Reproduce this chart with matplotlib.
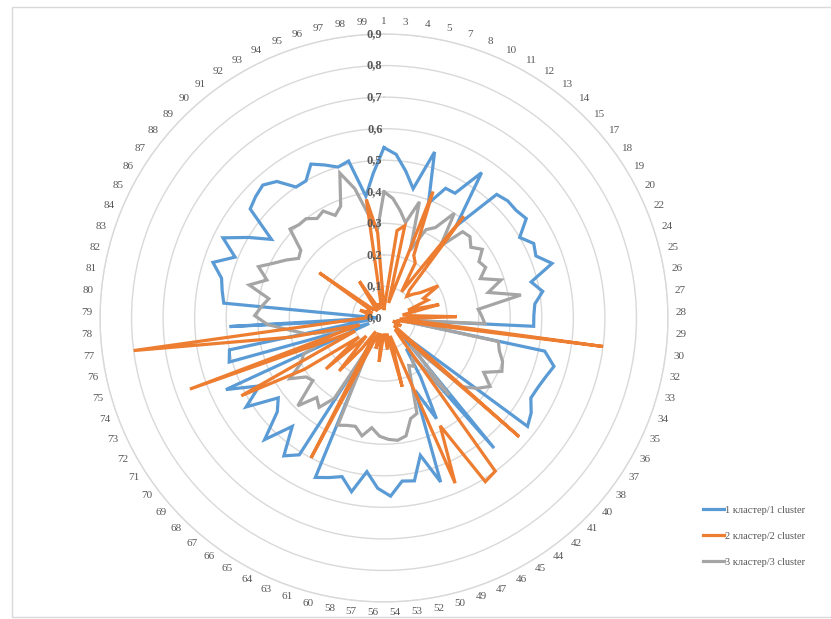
import numpy as np
import matplotlib.pyplot as plt
from matplotlib.patches import Rectangle
from matplotlib.lines import Line2D

# category labels around the radar
labels = [1, 3, 4, 5, 7, 8, 10, 11, 12, 13, 14, 15, 17, 18, 19, 20, 22, 24, 25, 26,
          27, 28, 29, 30, 32, 33, 34, 35, 36, 37, 38, 40, 41, 42, 44, 45, 46, 47, 49, 50,
          52, 53, 54, 56, 57, 58, 60, 61, 63, 64, 65, 66, 67, 68, 69, 70, 71, 72, 73, 74,
          75, 76, 77, 78, 79, 80, 81, 82, 83, 84, 85, 86, 87, 88, 89, 90, 91, 92, 93, 94,
          95, 96, 97, 98, 99]

cluster1 = [0.54, 0.52, 0.47, 0.42, 0.55, 0.39, 0.455, 0.455, 0.555, 0.37,
            0.53, 0.54, 0.54, 0.55, 0.50, 0.53, 0.52, 0.56, 0.48, 0.51,
            0.48, 0.475, 0.475, 0.05, 0.52, 0.56, 0.545, 0.535, 0.53, 0.555,
            0.57, 0.08, 0.10, 0.54, 0.12, 0.22, 0.36, 0.25, 0.55, 0.45,
            0.525, 0.52, 0.565, 0.54, 0.49, 0.56, 0.52, 0.535, 0.55, 0.10,
            0.51, 0.54, 0.45, 0.54, 0.45, 0.42, 0.52, 0.45, 0.55, 0.05,
            0.51, 0.50, 0.05, 0.49, 0.02, 0.51, 0.52, 0.53, 0.57, 0.51,
            0.57, 0.50, 0.435, 0.547, 0.56, 0.57, 0.55, 0.50, 0.50, 0.54,
            0.52, 0.50, 0.51, 0.39, 0.46]

cluster2 = [0.03, 0.05, 0.28, 0.30, 0.05, 0.43, 0.22, 0.20, 0.10, 0.41,
            0.12, 0.10, 0.12, 0.14, 0.20, 0.14, 0.15, 0.08, 0.18, 0.06,
            0.08, 0.23, 0.05, 0.70, 0.04, 0.05, 0.03, 0.06, 0.04, 0.05,
            0.04, 0.57, 0.05, 0.08, 0.60, 0.61, 0.385, 0.57, 0.06, 0.225,
            0.05, 0.10, 0.05, 0.06, 0.14, 0.05, 0.10, 0.05, 0.08, 0.50,
            0.05, 0.12, 0.22, 0.08, 0.245, 0.10, 0.30, 0.515, 0.10, 0.655,
            0.08, 0.30, 0.80, 0.10, 0.05, 0.06, 0.04, 0.05, 0.08, 0.04,
            0.06, 0.05, 0.25, 0.04, 0.05, 0.03, 0.06, 0.14, 0.04, 0.05,
            0.03, 0.05, 0.04, 0.38, 0.27]

cluster3 = [0.40, 0.38, 0.345, 0.31, 0.385, 0.23, 0.31, 0.33, 0.40, 0.29,
            0.37, 0.375, 0.355, 0.38, 0.35, 0.36, 0.33, 0.39, 0.34, 0.44,
            0.30, 0.31, 0.32, 0.05, 0.37, 0.38, 0.40, 0.41, 0.36, 0.40,
            0.37, 0.33, 0.12, 0.32, 0.15, 0.18, 0.17, 0.22, 0.32, 0.33,
            0.38, 0.39, 0.385, 0.375, 0.35, 0.38, 0.355, 0.36, 0.37, 0.10,
            0.30, 0.35, 0.33, 0.39, 0.30, 0.31, 0.355, 0.30, 0.28, 0.20,
            0.15, 0.25, 0.30, 0.37, 0.41, 0.39, 0.37, 0.44, 0.39, 0.43,
            0.39, 0.36, 0.33, 0.34, 0.41, 0.40, 0.40, 0.38, 0.39, 0.36,
            0.38, 0.48, 0.42, 0.33, 0.28]

series_names = ['1 кластер/1 cluster', '2 кластер/2 cluster', '3 кластер/3 cluster']
colors = ['#5B9BD5', '#ED7D31', '#A5A5A5']
rings = [0.0, 0.1, 0.2, 0.3, 0.4, 0.5, 0.6, 0.7, 0.8, 0.9]

serif = 'Liberation Serif'
txt_color = '#595959'

n = len(labels)
angles = np.arange(n) * 2 * np.pi / n


def closed(v):
    return np.append(v, v[0])


fig = plt.figure(figsize=(8.31, 6.19), dpi=100)
fig.patches.append(Rectangle((12 / 831, 2 / 619), 1.0, 610 / 619, transform=fig.transFigure,
                             fill=False, edgecolor='#D9D9D9', lw=1))

# centre (384, 318) px, outer ring radius 284 px
ax = fig.add_axes([100 / 831, 17 / 619, 568 / 831, 568 / 619], projection='polar')
ax.set_theta_zero_location('N')
ax.set_theta_direction(-1)

order = [(cluster1, 0, 2), (cluster3, 2, 3), (cluster2, 1, 4)]
for vals, ci, z in order:
    ax.plot(closed(angles), closed(vals), color=colors[ci], lw=2.3, zorder=z,
            solid_joinstyle='miter')

ax.set_ylim(0, 0.9)
ax.set_yticks(rings[1:])
ax.set_yticklabels([])
ax.yaxis.grid(True, color='#D9D9D9', lw=1)
ax.xaxis.grid(False)
ax.spines['polar'].set_color('#D9D9D9')
ax.spines['polar'].set_linewidth(1)

# category labels just outside the outer ring; centre pushed out by half the text box
ax.set_xticks(angles)
ax.set_xticklabels([])
ax.tick_params(axis='x', length=0)
gap = 5.5
for th, lab in zip(angles, labels):
    sx, cy = np.sin(th), np.cos(th)
    half_w = 2.0 * len(str(lab))
    half_h = 3.0
    ax.annotate(str(lab), xy=(th, 0.9),
                xytext=(sx * (gap + half_w), cy * (gap + half_h) + 0.5 * abs(cy)),
                textcoords='offset points', ha='center', va='center', fontsize=8,
                color=txt_color, family=serif, annotation_clip=False)

for r in rings:
    ax.annotate(('%.1f' % r).replace('.', ','), xy=(0, r), xytext=(-1, 0),
                textcoords='offset points', ha='right', va='center',
                fontsize=9, fontweight='bold', color=txt_color, family=serif, zorder=6)

handles = [Line2D([0], [0], color=c, lw=2.3) for c in colors]
fig.legend(handles, series_names, loc='center left', bbox_to_anchor=(0.835, 0.134),
           frameon=False, prop={'family': serif, 'size': 7.5}, labelcolor=txt_color,
           handlelength=2.0, handletextpad=0.1, labelspacing=1.6)

fig.savefig('out.png', dpi=100)
